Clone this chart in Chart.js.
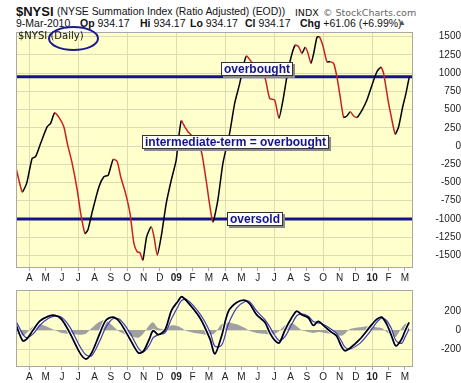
<html>
    <head>
        <meta charset="utf-8">
        <title>NYSI Summation Index</title>
        <script src="https://cdn.jsdelivr.net/npm/chart.js@4.4.0/dist/chart.umd.min.js"></script>
        <style>
            body { margin: 0; background: #fff; width: 461px; height: 383px; overflow: hidden; position: relative;
                   font-family: "Liberation Sans", Arial, sans-serif; color: #111; }
            .t { position: absolute; line-height: 1; white-space: pre; }
            .v { font-family: "DejaVu Sans", Verdana, sans-serif; }
            canvas { position: absolute; left: 0; }
            #main-chart { top: 0; z-index: 1; }
            #ppo-chart { top: 282px; z-index: 1; }
            #inner-label { z-index: 2; }
            #circle { position: absolute; left: 0; top: 0; z-index: 3; }
        </style>
    </head>

    <body>
        <!-- header lines -->
        <span class="t" style="left:16px; top:5px; font-size:13px; font-weight:bold;">$NYSI</span>
        <span class="t" style="left:57px; top:7px; font-size:10.4px;">(NYSE Summation Index (Ratio Adjusted) (EOD))</span>
        <span class="t v" style="left:295px; top:7.5px; font-size:9.5px;">INDX</span>
        <span class="t v" style="left:323px; top:7.5px; font-size:9.5px; color:#666;">© StockCharts.com</span>

        <span class="t" style="left:16px; top:18px; font-size:10.5px;">9-Mar-2010</span>
        <span class="t" style="left:80px; top:18px; font-size:10.5px;"><b>Op</b> 934.17</span>
        <span class="t" style="left:140px; top:18px; font-size:10.5px;"><b>Hi</b> 934.17</span>
        <span class="t" style="left:190px; top:18px; font-size:10.5px;"><b>Lo</b> 934.17</span>
        <span class="t" style="left:245px; top:18px; font-size:10.5px;"><b>Cl</b> 934.17</span>
        <span class="t" style="left:300px; top:18px; font-size:10.5px;"><b>Chg</b> +61.06 (+6.99%)</span>
        <span class="t" style="left:398px; top:19px; font-size:8px; color:#555;">▲</span>

        <span id="inner-label" class="t v" style="left:18px; top:31px; font-size:10px;">$NYSI (Daily)</span>
        <svg id="circle" width="461" height="80">
            <ellipse cx="73.5" cy="38.5" rx="24.5" ry="11.5" fill="none" stroke="#1b1b8f" stroke-width="2"/>
        </svg>

        <canvas id="main-chart" width="461" height="283"></canvas>
        <canvas id="ppo-chart" width="461" height="101"></canvas>

        <script>
            // months counted from 1-Apr-2008 (0 = Apr 08, 9 = Jan 09, 21 = Jan 10)
            const monthLabels = ['A', 'M', 'J', 'J', 'A', 'S', 'O', 'N', 'D', '09', 'F', 'M',
                                 'A', 'M', 'J', 'J', 'A', 'S', 'O', 'N', 'D', '10', 'F', 'M'];
            const mainTicks = [-1500, -1250, -1000, -750, -500, -250, 0, 250, 500, 750, 1000, 1250, 1500];
            const ppoTicks = [-200, 0, 200];

            // $NYSI summation index
            const nysiMonths = [-0.80, -0.43, -0.16, 0.18, 0.39, 0.70, 1.10, 1.31, 1.56, 1.82, 2.12, 2.33,
                2.63, 2.94, 3.15, 3.41, 3.59, 3.86, 4.27, 4.57, 4.84, 5.14, 5.39, 5.60,
                5.90, 6.17, 6.41, 6.61, 6.78, 6.96, 7.19, 7.47, 7.64, 7.84, 8.08, 8.39,
                8.70, 9.00, 9.11, 9.31, 9.52, 9.72, 9.92, 10.21, 10.55, 10.83, 11.24, 11.55,
                11.86, 12.27, 12.58, 12.89, 13.15, 13.31, 13.60, 14.00, 14.42, 14.72, 15.03, 15.29,
                15.54, 15.78, 16.04, 16.29, 16.50, 16.70, 16.90, 17.07, 17.25, 17.42, 17.62, 17.76,
                17.97, 18.23, 18.43, 18.64, 18.84, 19.04, 19.25, 19.45, 19.66, 19.87, 20.07, 20.38,
                20.68, 20.99, 21.29, 21.54, 21.70, 21.97, 22.17, 22.41, 22.62, 22.87, 23.07, 23.26];
            const nysiValues = [-306, -627, -512, -169, -147, 37, 265, 311, 457, 394, 265, 37,
                -237, -604, -924, -1198, -1152, -901, -558, -421, -398, -182, -215, -421,
                -649, -923, -1335, -1450, -1464, -1564, -1244, -1107, -1244, -1495, -1244, -786,
                -466, -192, 37, 347, 265, 196, 151, 82, -82, -466, -1038, -741,
                -237, 174, 586, 860, 1134, 1234, 1156, 1060, 951, 654, 631, 380,
                631, 951, 1225, 1385, 1362, 1272, 1354, 1272, 1134, 1272, 1491, 1499,
                1385, 1156, 1156, 1134, 951, 676, 394, 412, 470, 412, 394, 494,
                631, 837, 1019, 1080, 997, 631, 402, 165, 265, 539, 723, 934];

            const overboughtLevel = 950;
            const oversoldLevel = -1000;

            // lower panel: oscillator, its signal line and the histogram
            const ppoMonths = [-0.80, -0.40, -0.16, 0.24, 0.66, 1.16, 1.57, 1.98, 2.49, 3.10, 3.47, 3.82,
                4.33, 4.70, 5.14, 5.55, 6.17, 6.68, 6.98, 7.35, 7.59, 7.90, 8.31, 8.72,
                9.12, 9.33, 9.64, 10.45, 11.07, 11.37, 11.78, 12.19, 12.70, 13.21, 13.51, 13.92,
                14.43, 14.74, 15.05, 15.31, 15.66, 16.07, 16.38, 16.68, 17.09, 17.39, 17.70, 18.11,
                18.52, 18.82, 19.13, 19.33, 19.63, 20.25, 20.86, 21.27, 21.58, 21.88, 22.19, 22.45,
                22.80, 23.00, 23.26];
            const ppoValues = [48, -112, -96, 0, 96, 144, 154, 112, -32, -240, -304, -240,
                -32, 103, 135, 81, -96, -240, -224, -96, -6, -48, 0, 209,
                305, 349, 305, 129, -96, -250, -63, 192, 288, 312, 273, 161,
                81, -32, -112, -135, 0, 129, 199, 161, 129, 48, 90, 33,
                -25, -63, -176, -217, -192, -96, 33, 112, 135, 64, -63, -166,
                -96, -15, 81];
            const signalValues = [90, -40, -80, -40, 50, 120, 145, 135, 30, -170, -260, -270,
                -110, 30, 120, 110, -30, -190, -230, -160, -80, -50, -30, 120,
                250, 310, 320, 170, -20, -170, -160, 60, 230, 300, 295, 200,
                110, 30, -60, -110, -70, 60, 150, 170, 145, 90, 75, 50,
                5, -35, -120, -180, -200, -140, -20, 80, 125, 100, 10, -110,
                -140, -80, 10];
            const histValues = [-40, -60, -30, 40, 60, 30, 0, -30, -40, -50, -40, 20,
                90, 100, 40, -20, -60, -80, -40, 50, 80, 20, 10, 50,
                40, 20, -10, -40, -50, -30, 60, 80, 60, 20, -10, -30,
                -40, -50, -40, -10, 50, 70, 40, 0, -20, -30, -20, -30,
                -40, -50, -60, -40, 10, 30, 40, 30, 20, -20, -60, -70,
                20, 60, 80];

            const X_MIN = -0.81, X_MAX = 23.5;
            const FONT = '"Liberation Sans", Arial, sans-serif';
            const GRID = '#dcdcb4';
            const NAVY = '#14148a';

            const pts = (xs, ys) => xs.map((x, i) => ({ x: x, y: ys[i] }));

            // yellow panel + grey frame
            const panel = {
                id: 'panel',
                beforeDraw(chart) {
                    const { ctx, chartArea: a } = chart;
                    ctx.save();
                    ctx.fillStyle = '#ffffcc';
                    ctx.fillRect(a.left, a.top, a.width, a.height);
                    ctx.restore();
                },
                afterDraw(chart) {
                    const { ctx, chartArea: a } = chart;
                    ctx.save();
                    ctx.strokeStyle = '#a8a8a8';
                    ctx.lineWidth = 1;
                    ctx.strokeRect(a.left + 0.5, a.top + 0.5, a.width - 1, a.height - 1);
                    ctx.restore();
                }
            };

            function monthAxis(h) {
                return {
                    type: 'linear', min: X_MIN, max: X_MAX,
                    afterBuildTicks: axis => { axis.ticks = monthLabels.map((_, i) => ({ value: i })); },
                    afterFit: axis => { axis.height = h; },
                    border: { display: false },
                    grid: {
                        color: c => (c.tick && c.tick.value % 3 === 0) ? GRID : 'rgba(0,0,0,0)',
                        tickColor: '#aaa', tickLength: 3
                    },
                    ticks: {
                        autoSkip: false, maxRotation: 0, padding: 1, color: '#222',
                        font: c => ({ family: FONT, size: 10, weight: /\d/.test(monthLabels[c.index] || '') ? 'bold' : 'normal' }),
                        callback: (v, i) => monthLabels[i]
                    }
                };
            }

            function valueAxis(min, max, ticks) {
                return {
                    position: 'right', min: min, max: max,
                    afterBuildTicks: axis => { axis.ticks = ticks.map(v => ({ value: v })); },
                    afterFit: axis => { axis.width = 48; },
                    border: { display: false },
                    grid: { color: GRID, tickColor: 'rgba(0,0,0,0)', tickLength: 3 },
                    ticks: { crossAlign: 'far', padding: 2, color: '#222', font: { family: FONT, size: 10 },
                             callback: v => String(v) }
                };
            }

            // boxed text notes
            function drawTag(ctx, text, x, yMid) {
                ctx.save();
                ctx.font = 'bold 12px ' + FONT;
                const w = Math.round(ctx.measureText(text).width) + 6;
                const h = 14;
                const top = Math.round(yMid - h / 2);
                ctx.fillStyle = '#8a8a8a';
                ctx.fillRect(x + 2, top + 2, w, h);
                ctx.fillStyle = '#fff';
                ctx.fillRect(x, top, w, h);
                ctx.strokeStyle = '#333';
                ctx.lineWidth = 1;
                ctx.strokeRect(x + 0.5, top + 0.5, w - 1, h - 1);
                ctx.fillStyle = NAVY;
                ctx.textBaseline = 'middle';
                ctx.fillText(text, x + 3, top + h / 2 + 0.5);
                ctx.restore();
            }

            const notes = {
                id: 'notes',
                afterDatasetsDraw(chart) {
                    const { ctx, scales: { x, y } } = chart;
                    drawTag(ctx, 'overbought', Math.round(x.getPixelForValue(11.72)), y.getPixelForValue(1056));
                    drawTag(ctx, 'intermediate-term = overbought', Math.round(x.getPixelForValue(6.88)), y.getPixelForValue(60));
                    drawTag(ctx, 'oversold', Math.round(x.getPixelForValue(12.09)), y.getPixelForValue(oversoldLevel));
                }
            };

            const mainChart = new Chart(document.getElementById('main-chart'), {
                type: 'line',
                data: {
                    datasets: [{
                        data: pts(nysiMonths, nysiValues),
                        borderWidth: 1.5,
                        borderColor: '#000',
                        segment: { borderColor: c => c.p1.parsed.y < c.p0.parsed.y ? '#cc2020' : '#000' },
                        pointRadius: 0, tension: 0.2, order: 0
                    }, {
                        data: [{ x: X_MIN, y: overboughtLevel }, { x: X_MAX, y: overboughtLevel }],
                        borderColor: NAVY, borderWidth: 3, pointRadius: 0, order: 1
                    }, {
                        data: [{ x: X_MIN, y: oversoldLevel }, { x: X_MAX, y: oversoldLevel }],
                        borderColor: NAVY, borderWidth: 3, pointRadius: 0, order: 1
                    }]
                },
                options: {
                    responsive: false, animation: false, devicePixelRatio: 1,
                    layout: { padding: { left: 16, top: 32, right: 0, bottom: 0 } },
                    plugins: { legend: { display: false }, tooltip: { enabled: false } },
                    scales: { x: monthAxis(15), y: valueAxis(-1673, 1564, mainTicks) }
                },
                plugins: [panel, notes]
            });

            const ppoChart = new Chart(document.getElementById('ppo-chart'), {
                type: 'line',
                data: {
                    datasets: [{
                        data: pts(ppoMonths, ppoValues),
                        borderColor: '#000', borderWidth: 1.8, pointRadius: 0, tension: 0.3, order: 0
                    }, {
                        data: pts(ppoMonths, signalValues),
                        borderColor: '#3c3cb4', borderWidth: 1.2, pointRadius: 0, tension: 0.3, order: 1
                    }, {
                        data: pts(ppoMonths, ppoValues),
                        borderColor: '#fff', borderWidth: 3.5, pointRadius: 0, tension: 0.3, order: 2
                    }, {
                        data: pts(ppoMonths, histValues),
                        borderColor: '#a0a0a0', borderWidth: 0, backgroundColor: '#a0a0a0',
                        fill: 'origin', pointRadius: 0, tension: 0.3, order: 3
                    }]
                },
                options: {
                    responsive: false, animation: false, devicePixelRatio: 1,
                    layout: { padding: { left: 16, top: 1, right: 0, bottom: 0 } },
                    plugins: { legend: { display: false }, tooltip: { enabled: false } },
                    scales: { x: monthAxis(16), y: valueAxis(-388, 420, ppoTicks) }
                },
                plugins: [panel]
            });
        </script>
    </body>
</html>
